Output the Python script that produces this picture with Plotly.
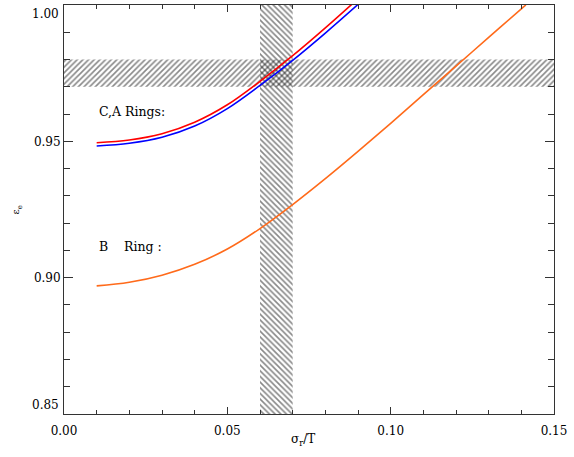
import plotly.graph_objects as go

# ---- data ----
x_vals = [0.01, 0.02, 0.03, 0.04, 0.05, 0.06, 0.07, 0.08, 0.09]
eps_red = [0.9495, 0.9505, 0.9528, 0.9570, 0.9634, 0.9720, 0.9814, 0.9916, 1.0023]
eps_blue = [0.9483, 0.9493, 0.9515, 0.9556, 0.9620, 0.9705, 0.9797, 0.9897, 1.0002]

x_b = [0.01, 0.02, 0.03, 0.04, 0.05, 0.06, 0.07, 0.08, 0.09, 0.10, 0.11, 0.12, 0.13, 0.14, 0.1414]
eps_orange = [0.8970, 0.8983, 0.9009, 0.9049, 0.9105, 0.9180, 0.9268, 0.9363, 0.9463,
              0.9566, 0.9671, 0.9776, 0.9881, 0.9986, 1.0000]

band_eps = [0.97, 0.98]      # horizontal shaded band (epsilon range)
band_sigma = [0.06, 0.07]    # vertical shaded band (sigma/T range)
x_range = [0.0, 0.15]
y_range = [0.85, 1.00]

x_ticks = [0.00, 0.05, 0.10, 0.15]
x_ticktext = ["0.00", "0.05", "0.10", "0.15"]
y_ticks = [0.85, 0.90, 0.95, 1.00]
y_ticktext = ["0.85", "0.90", "0.95", "1.00"]

FONT = "DejaVu Serif"
AX = "#333333"

fig = go.Figure()

# horizontal hatched band
fig.add_trace(go.Scatter(
    x=[x_range[0], x_range[1], x_range[1], x_range[0], x_range[0]],
    y=[band_eps[0], band_eps[0], band_eps[1], band_eps[1], band_eps[0]],
    fill="toself", mode="none", fillcolor="rgba(0,0,0,0)",
    fillpattern=dict(shape="/", size=4, solidity=0.4, fgcolor="#111111", bgcolor="rgba(0,0,0,0)"),
    hoverinfo="skip", showlegend=False))

# vertical hatched band
fig.add_trace(go.Scatter(
    x=[band_sigma[0], band_sigma[1], band_sigma[1], band_sigma[0], band_sigma[0]],
    y=[y_range[0], y_range[0], y_range[1], y_range[1], y_range[0]],
    fill="toself", mode="none", fillcolor="rgba(0,0,0,0)",
    fillpattern=dict(shape="\\", size=4, solidity=0.4, fgcolor="#111111", bgcolor="rgba(0,0,0,0)"),
    hoverinfo="skip", showlegend=False))

fig.add_trace(go.Scatter(x=x_vals, y=eps_red, mode="lines", line_shape="spline",
                         line=dict(color="#ff0000", width=1.6), showlegend=False))
fig.add_trace(go.Scatter(x=x_vals, y=eps_blue, mode="lines", line_shape="spline",
                         line=dict(color="#0000ff", width=1.6), showlegend=False))
fig.add_trace(go.Scatter(x=x_b, y=eps_orange, mode="lines", line_shape="spline",
                         line=dict(color="#ff6a1a", width=1.6), showlegend=False))

fig.add_annotation(x=0.0101, y=0.9611, text="C,A Rings:", showarrow=False,
                   xanchor="left", yanchor="middle", font=dict(family=FONT, size=12.5, color="black"))
fig.add_annotation(x=0.0101, y=0.9113, text="B\u00a0\u00a0\u00a0\u00a0Ring\u00a0:", showarrow=False,
                   xanchor="left", yanchor="middle", font=dict(family=FONT, size=12.5, color="black"))

# end y-tick labels kept inside the page (as in the reference)
fig.add_annotation(xref="paper", yref="y", x=0, y=y_ticks[-1], text=y_ticktext[-1],
                   showarrow=False, xanchor="right", yanchor="top", xshift=-3, yshift=0,
                   font=dict(family=FONT, size=12, color="black"))
fig.add_annotation(xref="paper", yref="y", x=0, y=y_ticks[0], text=y_ticktext[0],
                   showarrow=False, xanchor="right", yanchor="bottom", xshift=-3, yshift=0,
                   font=dict(family=FONT, size=12, color="black"))
y_ticktext_axis = [""] + y_ticktext[1:-1] + [""]

# axis titles
fig.add_annotation(xref="paper", yref="paper", x=0.487, y=-0.063, text="σ<sub>r</sub>/T",
                   showarrow=False, xanchor="center", yanchor="middle",
                   font=dict(family=FONT, size=12, color="black"))
fig.add_annotation(xref="paper", yref="paper", x=-0.096, y=0.50, text="ε<sub>e</sub>",
                   showarrow=False, xanchor="center", yanchor="middle", textangle=-90,
                   font=dict(family=FONT, size=10, color="black"))

fig.update_layout(
    width=574, height=457,
    margin=dict(l=64, r=20, t=5, b=43, autoexpand=False),
    plot_bgcolor="white", paper_bgcolor="white",
    font=dict(family=FONT, size=12, color="black"),
    xaxis=dict(range=x_range, tickvals=x_ticks, ticktext=x_ticktext,
               ticks="inside", ticklen=7, tickcolor=AX, showgrid=False, zeroline=False,
               showline=True, linecolor=AX, linewidth=1, mirror="ticks", automargin=False,
               ticklabeloverflow="allow", ticklabelstandoff=6,
               minor=dict(dtick=0.01, ticks="inside", ticklen=4, tickcolor=AX, showgrid=False)),
    yaxis=dict(range=y_range, tickvals=y_ticks, ticktext=y_ticktext_axis,
               ticks="inside", ticklen=9, tickcolor=AX, showgrid=False, zeroline=False,
               showline=True, linecolor=AX, linewidth=1, mirror="ticks", automargin=False,
               ticklabeloverflow="allow",
               minor=dict(dtick=0.01, ticks="inside", ticklen=6, tickcolor=AX, showgrid=False)),
)

fig.write_html("out.html", post_script="document.body.style.margin='0';",
               config={"displayModeBar": False})
